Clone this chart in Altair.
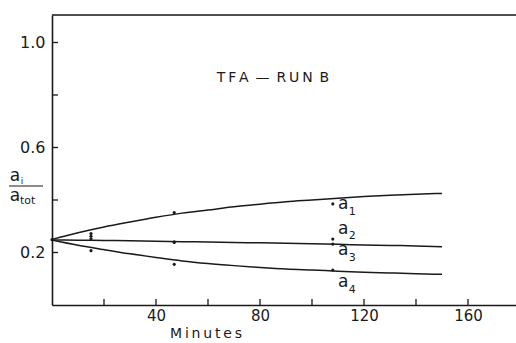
import altair as alt
import pandas as pd

# ---- data ----
curve_t = [0, 10, 20, 30, 40, 50, 60, 70, 80, 90, 100, 110, 120, 130, 140, 150]
curve_a1 = [0.250, 0.275, 0.297, 0.316, 0.334, 0.350, 0.362, 0.374, 0.384, 0.393,
            0.400, 0.407, 0.413, 0.418, 0.422, 0.425]
curve_a23 = [0.248, 0.247, 0.246, 0.245, 0.243, 0.241, 0.240, 0.238, 0.237, 0.235,
             0.233, 0.231, 0.229, 0.227, 0.225, 0.222]
curve_a4 = [0.248, 0.228, 0.211, 0.195, 0.181, 0.168, 0.158, 0.150, 0.143, 0.137,
            0.133, 0.129, 0.125, 0.122, 0.119, 0.117]

point_t = [0, 15, 15, 15, 15, 47, 47, 47, 47, 108, 108, 108, 108]
point_v = [0.249, 0.272, 0.262, 0.252, 0.207, 0.352, 0.241, 0.238, 0.155,
           0.385, 0.251, 0.232, 0.133]

x_ticks = [20, 40, 60, 80, 100, 120, 140, 160]
x_labels = [40, 80, 120, 160]
y_ticks = [0.2, 0.4, 0.6, 0.8, 1.0]
y_labels = [0.2, 0.6, 1.0]

label_names = ["a", "a", "a", "a"]
label_subs = ["1", "2", "3", "4"]
label_t = [112, 112, 112, 112]
label_v = [0.383, 0.290, 0.210, 0.088]
sub_t = [115.5, 115.5, 115.5, 115.5]
sub_v = [0.356, 0.263, 0.180, 0.058]

W, H = 464, 290
FONT = "DejaVu Sans"
INK = "#1a1a1a"
TS = "\u2009"  # thin space used for the wide lettering
ES = "\u2002"  # en space

curves = pd.DataFrame(
    [{"series": "a1", "t": t, "v": v} for t, v in zip(curve_t, curve_a1)]
    + [{"series": "a23", "t": t, "v": v} for t, v in zip(curve_t, curve_a23)]
    + [{"series": "a4", "t": t, "v": v} for t, v in zip(curve_t, curve_a4)]
)
points = pd.DataFrame({"t": point_t, "v": point_v})
xt = pd.DataFrame({"t": x_ticks})
yt = pd.DataFrame({"v": y_ticks})
labs = pd.DataFrame({"t": label_t, "v": label_v, "txt": label_names})
subs = pd.DataFrame({"t": sub_t, "v": sub_v, "txt": label_subs})

xs = alt.Scale(domain=[0, W / 2.6], nice=False, zero=False)
ys = alt.Scale(domain=[0, H / 262.5], nice=False, zero=False)

xaxis = alt.Axis(values=x_labels, ticks=False, grid=False, title=None,
                 labelFont=FONT, labelFontSize=15, labelColor=INK, labelPadding=3,
                 domainColor=INK, domainWidth=1.6, labelFlush=False)
yaxis = alt.Axis(values=y_labels, ticks=False, grid=False, title=None, format=".1f",
                 labelFont=FONT, labelFontSize=16, labelColor=INK, labelPadding=7,
                 domainColor=INK, domainWidth=1.6)

lines = alt.Chart(curves).mark_line(interpolate="monotone", color=INK, strokeWidth=1.5).encode(
    x=alt.X("t:Q", scale=xs, axis=xaxis),
    y=alt.Y("v:Q", scale=ys, axis=yaxis),
    detail="series:N",
)

dots = alt.Chart(points).mark_circle(color=INK, size=10, opacity=1).encode(
    x=alt.X("t:Q", scale=xs), y=alt.Y("v:Q", scale=ys)
)

xtick = alt.Chart(xt).mark_rule(color=INK, strokeWidth=1.3).encode(
    x=alt.X("t:Q", scale=xs), y=alt.value(H), y2=alt.value(H - 6)
)
ytick = alt.Chart(yt).mark_rule(color=INK, strokeWidth=1.3).encode(
    y=alt.Y("v:Q", scale=ys), x=alt.value(0), x2=alt.value(6)
)
top = alt.Chart(pd.DataFrame({"k": [0]})).mark_rule(color=INK, strokeWidth=1.6).encode(
    x=alt.value(0), x2=alt.value(W), y=alt.value(0)
)

lab_a = alt.Chart(labs).mark_text(font=FONT, fontSize=17, color=INK, baseline="middle").encode(
    x=alt.X("t:Q", scale=xs), y=alt.Y("v:Q", scale=ys), text="txt:N"
)
lab_s = alt.Chart(subs).mark_text(font=FONT, fontSize=11, color=INK, baseline="middle").encode(
    x=alt.X("t:Q", scale=xs), y=alt.Y("v:Q", scale=ys), text="txt:N"
)

one = pd.DataFrame({"k": [0]})
title_txt = TS.join("TFA") + ES + "—" + ES + TS.join("RUN") + ES + "B"
title = alt.Chart(one).mark_text(text=title_txt, font=FONT, fontSize=14, color=INK,
                                 baseline="middle").encode(x=alt.value(221), y=alt.value(63))
xtitle = alt.Chart(one).mark_text(text=TS.join("Minutes"), font=FONT, fontSize=14, color=INK,
                                  baseline="middle").encode(x=alt.value(154), y=alt.value(319))
frac_a = alt.Chart(one).mark_text(text="a", font=FONT, fontSize=17, color=INK,
                                  baseline="middle").encode(x=alt.value(-37), y=alt.value(161))
frac_i = alt.Chart(one).mark_text(text="i", font=FONT, fontSize=9, color=INK,
                                  baseline="middle").encode(x=alt.value(-30), y=alt.value(166))
frac_line = alt.Chart(one).mark_rule(color=INK, strokeWidth=1.2).encode(
    x=alt.value(-43), x2=alt.value(-9), y=alt.value(171)
)
frac_b = alt.Chart(one).mark_text(text="a", font=FONT, fontSize=17, color=INK,
                                  baseline="middle").encode(x=alt.value(-37), y=alt.value(181))
frac_tot = alt.Chart(one).mark_text(text="tot", font=FONT, fontSize=11, color=INK, align="left",
                                    baseline="middle").encode(x=alt.value(-32), y=alt.value(186))

chart = alt.layer(
    lines, dots, xtick, ytick, top, lab_a, lab_s, title, xtitle,
    frac_a, frac_i, frac_line, frac_b, frac_tot,
).properties(
    width=W, height=H,
    autosize=alt.AutoSizeParams(type="none"),
    padding={"left": 52, "top": 15, "right": 0, "bottom": 38},
).configure_view(stroke=None).configure(background="white")

chart.save("out.html", embed_options={"renderer": "svg", "actions": False})
